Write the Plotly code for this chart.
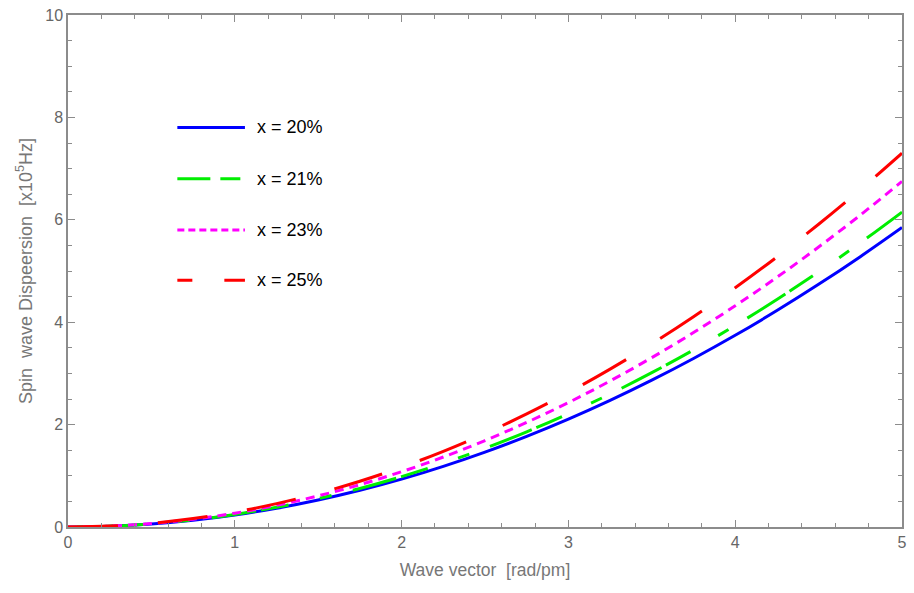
import plotly.graph_objects as go

# Wave vector [rad/pm]
k = [0, 0.25, 0.5, 0.75, 1.0, 1.25, 1.5, 1.75, 2.0, 2.25, 2.5, 2.75, 3.0,
     3.25, 3.5, 3.75, 4.0, 4.25, 4.5, 4.75, 5.0]

# Spin wave dispersion [x10^5 Hz]
x20 = [0, 0.015, 0.059, 0.132, 0.234, 0.366, 0.527, 0.717, 0.936, 1.185, 1.463,
       1.770, 2.106, 2.472, 2.867, 3.291, 3.744, 4.227, 4.739, 5.280, 5.85]
x21 = [0, 0.015, 0.062, 0.138, 0.246, 0.384, 0.554, 0.753, 0.984, 1.245, 1.538,
       1.860, 2.214, 2.598, 3.014, 3.459, 3.936, 4.443, 4.982, 5.550, 6.15]
x23 = [0, 0.017, 0.068, 0.152, 0.270, 0.422, 0.608, 0.827, 1.080, 1.367, 1.688,
       2.042, 2.430, 2.852, 3.308, 3.797, 4.320, 4.877, 5.468, 6.092, 6.75]
x25 = [0, 0.018, 0.073, 0.164, 0.292, 0.456, 0.657, 0.894, 1.168, 1.478, 1.825,
       2.208, 2.628, 3.084, 3.577, 4.106, 4.672, 5.274, 5.913, 6.588, 7.30]

labels = ["x = 20%", "x = 21%", "x = 23%", "x = 25%"]
series = [x20, x21, x23, x25]
colors = ["#0000ff", "#00ee00", "#ff00ff", "#ff0000"]
dashes = ["solid", "45px,5px,28px,32px,12px,22px", "9px,6px", "50px,40px"]

fig = go.Figure()
for name, ys, c, d in zip(labels, series, colors, dashes):
    fig.add_trace(go.Scatter(x=k, y=ys, mode="lines", name=name,
                             line=dict(color=c, width=3, dash=d, shape="spline"),
                             showlegend=False))

# manual legend (paper coordinates)
leg_dash = ["solid", "33px,10px,20px,100px", "7px,4px", "15px,32px,21px,100px"]
rows_y = [122, 174, 226, 277]
W, H = 914, 593
L, R, T, B = 68, 7, 8, 66
pw, ph = W - L - R, H - T - B
def px(xp):
    return (xp - L) / pw
def py(yp):
    return 1 - (yp - T) / ph

for name, c, d, yy in zip(labels, colors, leg_dash, rows_y):
    fig.add_shape(type="line", xref="paper", yref="paper",
                  x0=px(178), x1=px(246), y0=py(yy), y1=py(yy),
                  line=dict(color=c, width=3, dash=d))
    fig.add_annotation(xref="paper", yref="paper", x=px(256), y=py(yy),
                       text=name, showarrow=False, xanchor="left", yanchor="middle",
                       font=dict(size=18, color="black",
                                 family="Liberation Sans, Arial, sans-serif"))

axcol = "#8c8c8c"
tickfont = dict(size=16, color="#666666", family="Liberation Sans, Arial, sans-serif")
xtitlefont = dict(size=17.5, color="#777777", family="Liberation Sans, Arial, sans-serif")
ytitlefont = dict(size=18, color="#777777", family="Liberation Sans, Arial, sans-serif")

fig.update_xaxes(range=[0, 5], tickvals=[0, 1, 2, 3, 4, 5],
                 ticks="inside", ticklen=7, tickcolor=axcol, tickwidth=1,
                 showline=True, linecolor=axcol, linewidth=1.5, mirror="ticks",
                 showgrid=False, zeroline=False, tickfont=tickfont,
                 minor=dict(dtick=0.2, ticks="inside", ticklen=4, tickcolor=axcol, showgrid=False),
                 title=dict(text="Wave vector  [rad/pm]", font=xtitlefont, standoff=14))
fig.update_yaxes(range=[0, 10], tickvals=[0, 2, 4, 6, 8, 10],
                 ticks="inside", ticklen=7, tickcolor=axcol, tickwidth=1,
                 showline=True, linecolor=axcol, linewidth=1.5, mirror="ticks",
                 showgrid=False, zeroline=False, tickfont=tickfont,
                 minor=dict(dtick=0.5, ticks="inside", ticklen=4, tickcolor=axcol, showgrid=False),
                 title=dict(text="Spin  wave Dispeersion  [x10<sup>5</sup>Hz]", font=ytitlefont, standoff=8))

fig.update_layout(width=W, height=H, margin=dict(l=L, r=R, t=T, b=B),
                  plot_bgcolor="white", paper_bgcolor="white")

fig.write_html("out.html")
